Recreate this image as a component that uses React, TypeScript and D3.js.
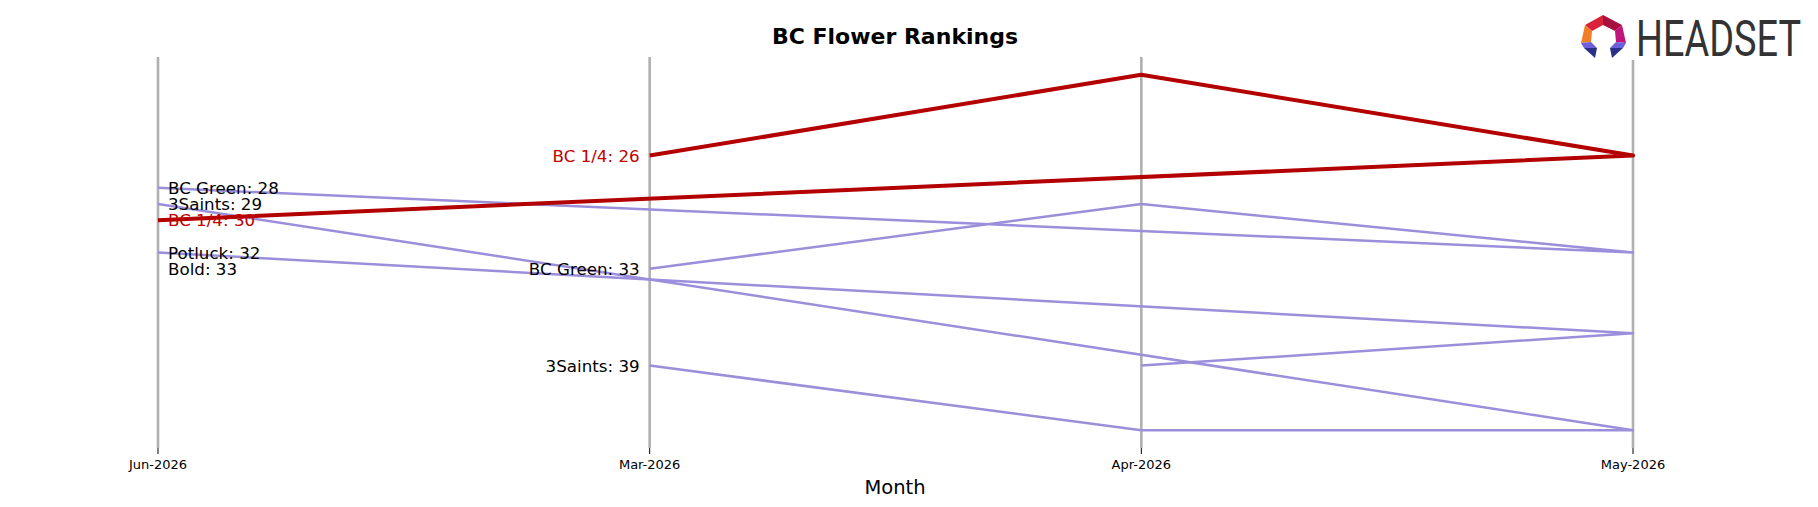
import React from 'react';
import * as d3 from 'd3';

// axis order as it appears on the chart
const months = ['Jun-2026', 'Mar-2026', 'Apr-2026', 'May-2026'];
// order the points are joined in
const timeOrder = ['Mar-2026', 'Apr-2026', 'May-2026', 'Jun-2026'];

const brandNames = ['BC 1/4', 'BC Green', '3Saints', 'Potluck', 'Bold'];
// ranks per brand, in timeOrder (null = not ranked)
const bc14Ranks = [26, 21, 26, 30];
const bcGreenRanks = [33, 29, 32, 28];
const threeSaintsRanks = [39, 43, 43, 29];
const potluckRanks = [null, 39, 37, 32];
const boldRanks = [null, null, null, 33];

const rankSeries = [bc14Ranks, bcGreenRanks, threeSaintsRanks, potluckRanks, boldRanks];
const highlight = 'BC 1/4';

const W = 1818;
const H = 507;
const font = 'DejaVu Sans';
const RED = '#b30000';
const PURPLE = '#9b8edb';

type Pt = { month: string; rank: number | null };

const App: React.FC = () => {
  const x = d3.scalePoint<string>().domain(months).range([158, 1633]);
  const y = d3.scaleLinear().domain([19.9, 44.1]).range([57, 448]);

  const series = brandNames.map((name, i) => ({
    name,
    pts: timeOrder.map((m, j) => ({ month: m, rank: rankSeries[i][j] })) as Pt[],
  }));

  const line = d3
    .line<Pt>()
    .defined(d => d.rank != null)
    .x(d => x(d.month) as number)
    .y(d => y(d.rank as number));

  const ordered = [...series.filter(s => s.name !== highlight), ...series.filter(s => s.name === highlight)];

  // logo icon facets, relative to (1570, 10)
  const facets: { pts: [number, number][]; fill: string }[] = [
    { pts: [[33, 5], [15, 15], [22, 21], [33, 15]], fill: '#d8233b' },
    { pts: [[33, 5], [52, 15], [45, 21], [33, 15]], fill: '#a8113f' },
    { pts: [[15, 15], [11, 33], [21, 32], [22, 21]], fill: '#f08028' },
    { pts: [[52, 15], [56, 33], [46, 32], [45, 21]], fill: '#c0137c' },
    { pts: [[11, 33], [21, 32], [27, 38], [14, 38]], fill: '#6b5fdc' },
    { pts: [[14, 38], [27, 38], [25, 48]], fill: '#283089' },
    { pts: [[56, 33], [46, 32], [40, 38], [53, 38]], fill: '#6b5fdc' },
    { pts: [[53, 38], [40, 38], [42, 48]], fill: '#283089' },
  ];

  return (
    <svg
      width={W}
      height={H}
      style={{ position: 'absolute', left: 0, top: 0, background: '#fff' }}
      fontFamily={font}
    >
      <rect width={W} height={H} fill="#fff" />

      {/* month guides and ticks */}
      {months.map(m => (
        <g key={m}>
          <line x1={x(m)} x2={x(m)} y1={57} y2={448} stroke="#b0b0b0" strokeWidth={2.6} />
          <line x1={x(m)} x2={x(m)} y1={448} y2={454} stroke="#000" strokeWidth={1} />
          <text x={x(m)} y={469} fontSize={13} textAnchor="middle" fill="#000">
            {m}
          </text>
        </g>
      ))}

      {ordered.map(s => (
        <path
          key={s.name}
          d={line(s.pts) || ''}
          fill="none"
          stroke={s.name === highlight ? RED : PURPLE}
          strokeWidth={s.name === highlight ? 4 : 2.5}
          strokeLinejoin="round"
        />
      ))}

      {/* labels on the first (Mar) and last (Jun) months */}
      {series.map(s => {
        const first = s.pts[0];
        const last = s.pts[s.pts.length - 1];
        const color = s.name === highlight ? '#c00000' : '#000';
        return (
          <g key={s.name + '-lbl'}>
            {first.rank != null && (
              <text
                x={(x(first.month) as number) - 10}
                y={y(first.rank)}
                fontSize={16.7}
                textAnchor="end"
                dominantBaseline="central"
                fill={color}
              >
                {`${s.name}: ${first.rank}`}
              </text>
            )}
            {last.rank != null && (
              <text
                x={(x(last.month) as number) + 10}
                y={y(last.rank)}
                fontSize={16.7}
                dominantBaseline="central"
                fill={color}
              >
                {`${s.name}: ${last.rank}`}
              </text>
            )}
          </g>
        );
      })}

      <text x={895} y={44} fontSize={22} fontWeight="bold" textAnchor="middle">
        BC Flower Rankings
      </text>
      <text x={895} y={494} fontSize={19.5} textAnchor="middle">
        Month
      </text>

      {/* logo */}
      <rect x={1572} y={6} width={238} height={54} fill="#fff" />
      <g transform="translate(1570,10)">
        {facets.map((f, i) => (
          <polygon key={i} points={f.pts.map(p => p.join(',')).join(' ')} fill={f.fill} />
        ))}
      </g>
      <g transform="translate(1636,56) scale(0.757,1)">
        <text
          x={0}
          y={0}
          fontFamily="Roboto"
          fontSize={50}
          fill="#333"
          textLength={218}
          lengthAdjust="spacingAndGlyphs"
        >
          HEADSET
        </text>
      </g>
    </svg>
  );
};

export default App;
